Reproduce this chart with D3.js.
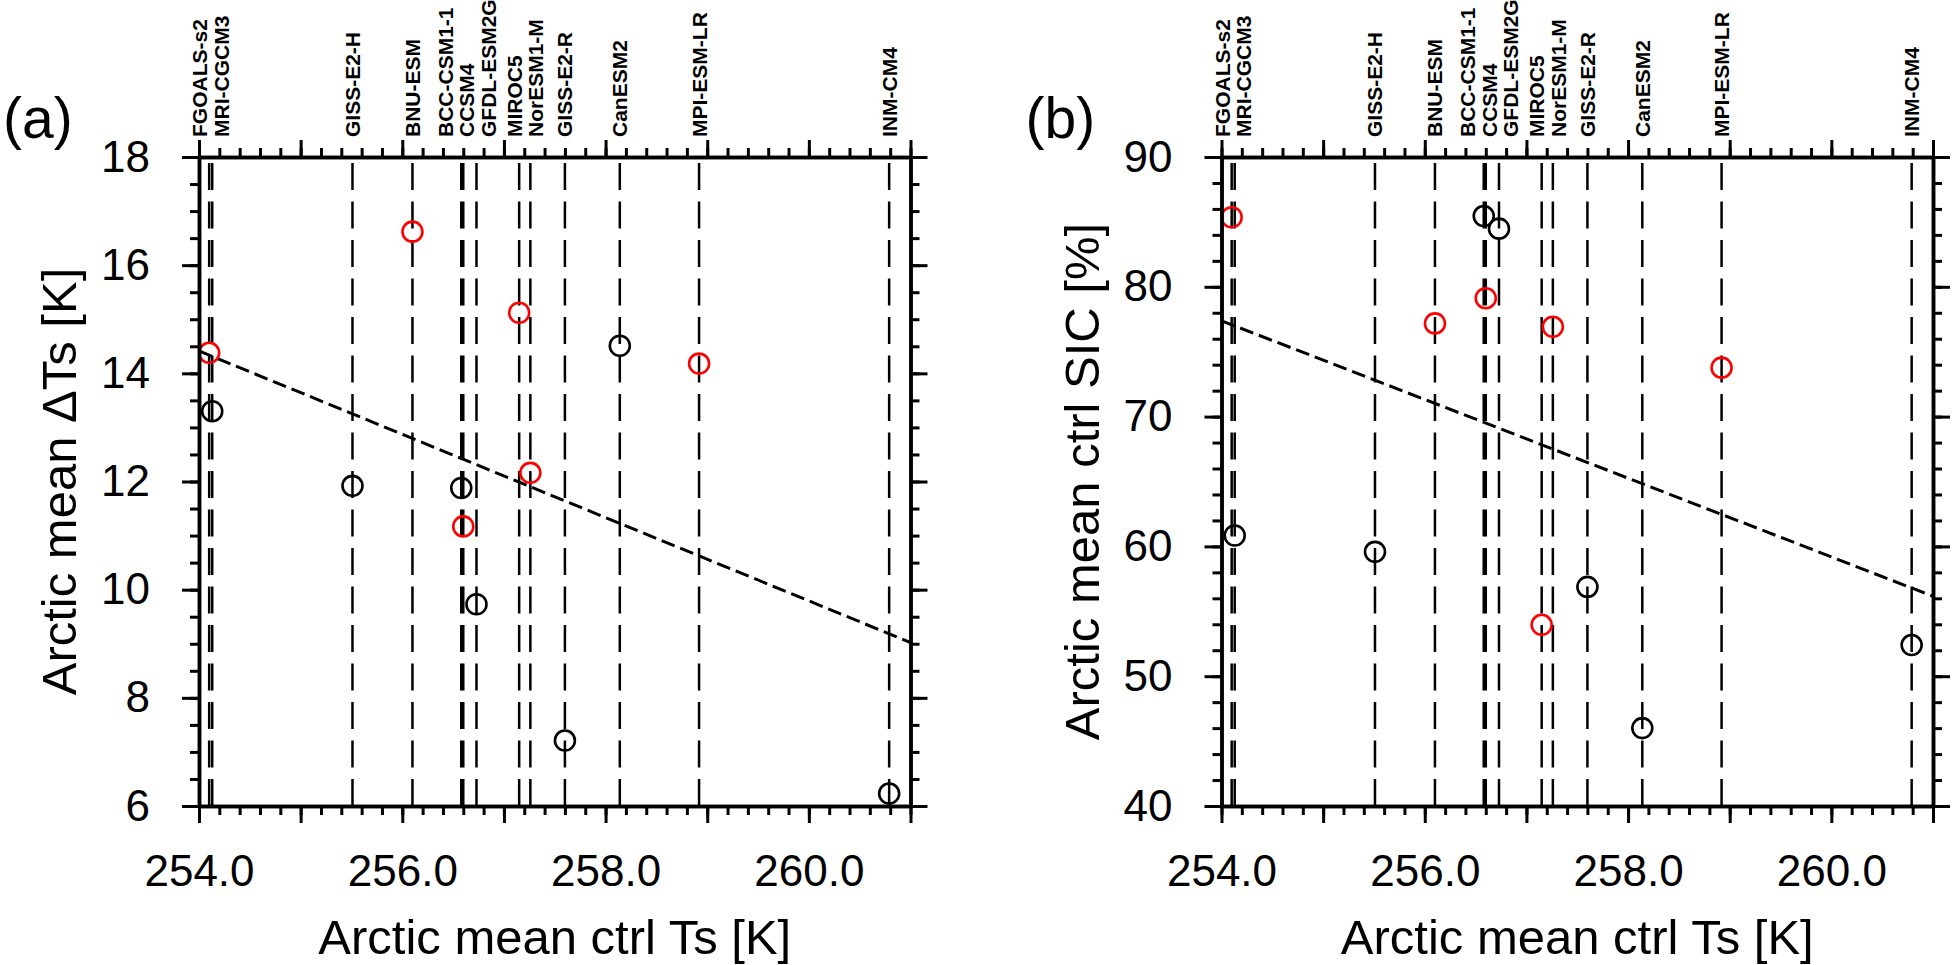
<!DOCTYPE html>
<html>
<head>
<meta charset="utf-8">
<script src="https://cdn.jsdelivr.net/npm/d3@7"></script>
<style>
  body { margin: 0; background: #fff; }
  svg { display: block; font-family: "Liberation Sans", Arial, Helvetica, sans-serif; }
</style>
</head>
<body>
<svg id="chart" width="1952" height="965"></svg>
<script>
// model values
const models = ["FGOALS-s2", "MRI-CGCM3", "GISS-E2-H", "BNU-ESM", "BCC-CSM1-1", "CCSM4", "GFDL-ESM2G",
  "MIROC5", "NorESM1-M", "GISS-E2-R", "CanESM2", "MPI-ESM-LR", "INM-CM4"];
const ctrlTs = [254.10, 254.13, 255.51, 256.10, 256.58, 256.60, 256.73, 257.15, 257.26, 257.60, 258.14, 258.92, 260.79];
const deltaTs = [14.38, 13.30, 11.92, 16.62, 11.88, 11.17, 9.73, 15.12, 12.16, 7.21, 14.51, 14.18, 6.23];
const ctrlSIC = [85.36, 60.84, 59.58, 77.18, 85.45, 79.12, 84.48, 53.96, 76.92, 56.88, 46.00, 73.77, 52.40];
const redModels = ["FGOALS-s2", "BNU-ESM", "CCSM4", "MIROC5", "NorESM1-M", "MPI-ESM-LR"];
const topLabelGroups = [["FGOALS-s2", "MRI-CGCM3"], ["GISS-E2-H"], ["BNU-ESM"], ["BCC-CSM1-1", "CCSM4", "GFDL-ESM2G"],
  ["MIROC5", "NorESM1-M"], ["GISS-E2-R"], ["CanESM2"], ["MPI-ESM-LR"], ["INM-CM4"]];

const xDomain = [254, 261];
const xTickLabels = ["254.0", "256.0", "258.0", "260.0"];
const xTitle = "Arctic mean ctrl Ts [K]";

const yDomainA = [6, 18];
const yTicksA = ["6", "8", "10", "12", "14", "16", "18"];
const yTitleA = "Arctic mean \u0394Ts [K]";
const yDomainB = [40, 90];
const yTicksB = ["40", "50", "60", "70", "80", "90"];
const yTitleB = "Arctic mean ctrl SIC [%]";

const svg = d3.select('#chart');
const plotTop = 157, plotBottom = 806, plotW = 711.5;

const panels = [
  {letter: '(a)', left: 199, values: deltaTs, domain: yDomainA, ticks: yTicksA, minor: 0.5, title: yTitleA},
  {letter: '(b)', left: 1221.5, values: ctrlSIC, domain: yDomainB, ticks: yTicksB, minor: 2, title: yTitleB}
];

// least squares line through the model points
function fitLine(xs, ys) {
  let mx = d3.mean(xs), my = d3.mean(ys);
  let sxy = 0, sxx = 0;
  xs.forEach((x, i) => {
    sxy += (x - mx) * (ys[i] - my);
    sxx += (x - mx) * (x - mx);
  });
  let slope = sxy / sxx;
  return x => my + slope * (x - mx);
}

function drawAxis(g, axisFn, scale, majors, minors, labelFn) {
  g.append('g').call(axisFn(scale).tickValues(minors).tickSize(9).tickSizeOuter(0).tickFormat(''));
  g.append('g').call(axisFn(scale).tickValues(majors).tickSize(17).tickSizeOuter(0).tickPadding(32).tickFormat(labelFn));
  g.selectAll('.domain').attr('stroke-width', 3.5).attr('stroke', '#000');
  g.selectAll('.tick line').attr('stroke-width', 3).attr('stroke', '#000');
  g.selectAll('text').attr('font-size', 44).attr('font-family', '"Liberation Sans", Arial, sans-serif').attr('fill', '#000');
}

panels.forEach(p => {
  let x = d3.scaleLinear().domain(xDomain).range([p.left, p.left + plotW]);
  let y = d3.scaleLinear().domain(p.domain).range([plotBottom, plotTop]);
  let g = svg.append('g');

  // vertical dashed model lines, drawn upward from the bottom axis
  g.selectAll('path.model')
    .data(ctrlTs)
    .enter()
    .append('path')
    .attr('d', d => 'M' + x(d) + ',' + y(p.domain[0]) + 'V' + y(p.domain[1]))
    .attr('stroke', '#000')
    .attr('stroke-width', 2.5)
    .attr('stroke-dasharray', '27 11.5')
    .attr('fill', 'none');

  // regression line
  let f = fitLine(ctrlTs, p.values);
  g.append('path')
    .attr('d', d3.line().x(d => x(d)).y(d => y(f(d)))(xDomain))
    .attr('stroke', '#000')
    .attr('stroke-width', 3)
    .attr('stroke-dasharray', '14 6')
    .attr('fill', 'none');

  // markers
  g.selectAll('circle')
    .data(models)
    .enter()
    .append('circle')
    .attr('cx', (d, i) => x(ctrlTs[i]))
    .attr('cy', (d, i) => y(p.values[i]))
    .attr('r', 10)
    .attr('fill', 'none')
    .attr('stroke', d => redModels.includes(d) ? '#ff0000' : '#000')
    .attr('stroke-width', 2.6);

  // axes on all four sides, ticks outward
  let xMajors = d3.range(xDomain[0], xDomain[1] + 0.001, 1);
  let xMinors = d3.range(xDomain[0], xDomain[1] + 0.001, 0.2);
  let yMajors = p.ticks.map(Number);
  let yMinors = d3.range(p.domain[0], p.domain[1] + 0.001, p.minor);
  let xLabel = v => {
    let k = xTickLabels.indexOf(v.toFixed(1));
    return k >= 0 ? xTickLabels[k] : '';
  };

  drawAxis(g.append('g').attr('transform', 'translate(0,' + plotBottom + ')'), d3.axisBottom, x, xMajors, xMinors, xLabel);
  drawAxis(g.append('g').attr('transform', 'translate(0,' + plotTop + ')'), d3.axisTop, x, xMajors, xMinors, () => '');
  drawAxis(g.append('g').attr('transform', 'translate(' + p.left + ',0)'), d3.axisLeft, y, yMajors, yMinors, v => p.ticks[yMajors.indexOf(v)]);
  drawAxis(g.append('g').attr('transform', 'translate(' + (p.left + plotW) + ',0)'), d3.axisRight, y, yMajors, yMinors, () => '');

  // model names above the top axis
  topLabelGroups.forEach(group => {
    let cx = d3.mean(group, n => x(ctrlTs[models.indexOf(n)]));
    group.forEach((n, i) => {
      g.append('text')
        .attr('transform', 'translate(' + (cx + (i - (group.length - 1) / 2) * 21.5) + ',137) rotate(-90)')
        .attr('text-anchor', 'start')
        .attr('dominant-baseline', 'central')
        .attr('font-size', 21)
        .attr('font-weight', 'bold')
        .text(n);
    });
  });

  // titles
  g.append('text')
    .attr('x', p.left + plotW / 2)
    .attr('y', 954)
    .attr('text-anchor', 'middle')
    .attr('font-size', 49)
    .text(xTitle);
  g.append('text')
    .attr('transform', 'translate(' + (p.left - 123) + ',' + ((plotTop + plotBottom) / 2) + ') rotate(-90)')
    .attr('text-anchor', 'middle')
    .attr('font-size', 49)
    .text(p.title);
  g.append('text')
    .attr('x', p.left - 196)
    .attr('y', 138)
    .attr('font-size', 57)
    .text(p.letter);
});
</script>
</body>
</html>
